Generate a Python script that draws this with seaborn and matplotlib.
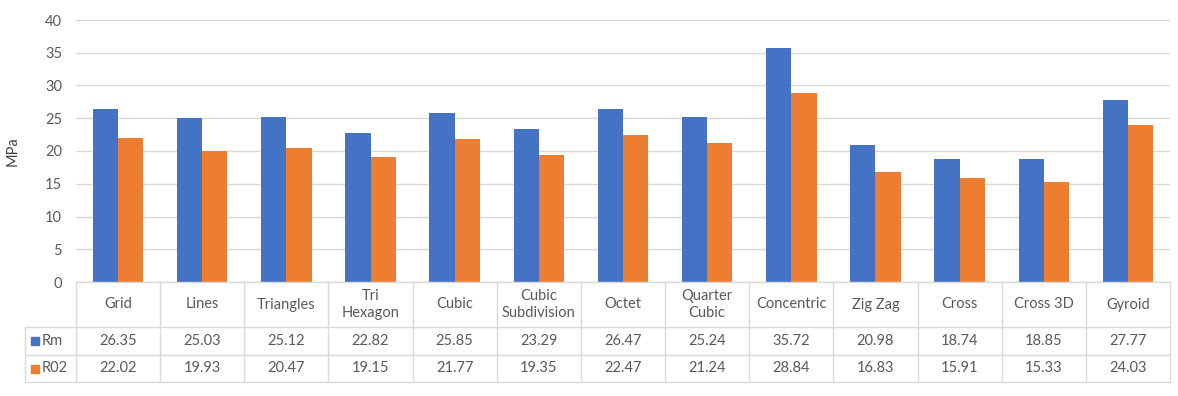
import matplotlib
matplotlib.use("Agg")
import matplotlib.pyplot as plt
import matplotlib.transforms as mtransforms
import seaborn as sns
import pandas as pd

categories = ["Grid", "Lines", "Triangles", "Tri\nHexagon", "Cubic", "Cubic\nSubdivision",
              "Octet", "Quarter\nCubic", "Concentric", "Zig Zag", "Cross", "Cross 3D", "Gyroid"]
rm = [26.35, 25.03, 25.12, 22.82, 25.85, 23.29, 26.47, 25.24, 35.72, 20.98, 18.74, 18.85, 27.77]
r02 = [22.02, 19.93, 20.47, 19.15, 21.77, 19.35, 22.47, 21.24, 28.84, 16.83, 15.91, 15.33, 24.03]
series = ["Rm", "R02"]
colors = ["#4472C4", "#ED7D31"]

df = pd.DataFrame({
    "cat": categories * 2,
    "val": rm + r02,
    "series": ["Rm"] * len(rm) + ["R02"] * len(r02),
})

sns.set_style("white")
plt.rcParams["font.family"] = ["Lato", "DejaVu Sans"]
txt = "#595959"
grid_c = "#D9D9D9"

W, H = 1178, 396
fig = plt.figure(figsize=(W / 100, H / 100), dpi=100)
left, right, top, bottom = 76, 1170, 20, 282
ax = fig.add_axes([left / W, 1 - bottom / H, (right - left) / W, (bottom - top) / H])

sns.barplot(data=df, x="cat", y="val", hue="series", hue_order=series,
            palette=colors, width=0.6, saturation=1, linewidth=0, ax=ax, legend=False)

ax.set_ylim(0, 40)
ax.set_yticks(range(0, 41, 5))
ax.set_xlim(-0.5, len(categories) - 0.5)
ax.yaxis.grid(True, color=grid_c, linewidth=1)
ax.set_axisbelow(True)
for s in ax.spines.values():
    s.set_visible(False)
ax.set_xticks([])
ax.set_xlabel("")
ax.set_ylabel("MPa", fontsize=10.5, color="#404040")
ax.yaxis.set_label_coords(-56 / (right - left), 0.5)
ax.tick_params(axis="y", length=0, labelsize=10.5, labelcolor=txt, pad=10)

# data table below the plot
ah = bottom - top
trans = mtransforms.blended_transform_factory(ax.transData, ax.transAxes)
y_rows = [0, -45 / ah, -73 / ah, -100 / ah]
n = len(categories)
lkw = dict(color=grid_c, linewidth=1, clip_on=False)
leg_x = -0.5 - 51 / ((right - left) / n)

# horizontal lines
for i, y in enumerate(y_rows):
    x0 = -0.5 if i == 0 else leg_x
    ax.plot([x0, n - 0.5], [y, y], transform=trans, **lkw)
# vertical lines
for k in range(n + 1):
    ax.plot([k - 0.5, k - 0.5], [y_rows[0], y_rows[-1]], transform=trans, **lkw)
ax.plot([leg_x, leg_x], [y_rows[1], y_rows[-1]], transform=trans, **lkw)

for k, c in enumerate(categories):
    ax.text(k, (y_rows[0] + y_rows[1]) / 2, c, transform=trans, ha="center", va="center",
            fontsize=10.5, color=txt, linespacing=1.3)
    ax.text(k, (y_rows[1] + y_rows[2]) / 2, f"{rm[k]:.2f}", transform=trans,
            ha="center", va="center", fontsize=10.5, color=txt)
    ax.text(k, (y_rows[2] + y_rows[3]) / 2, f"{r02[k]:.2f}", transform=trans,
            ha="center", va="center", fontsize=10.5, color=txt)

# legend keys inside the table
unit = (right - left) / n
for j, (s, col) in enumerate(zip(series, colors)):
    yc = (y_rows[j + 1] + y_rows[j + 2]) / 2
    ax.plot([leg_x + 10 / unit], [yc], marker="s", markersize=6, color=col,
            transform=trans, clip_on=False, linestyle="none")
    ax.text(leg_x + 17 / unit, yc, s, transform=trans, ha="left", va="center",
            fontsize=10.5, color=txt)

fig.savefig("out.png", dpi=100, facecolor="white")
